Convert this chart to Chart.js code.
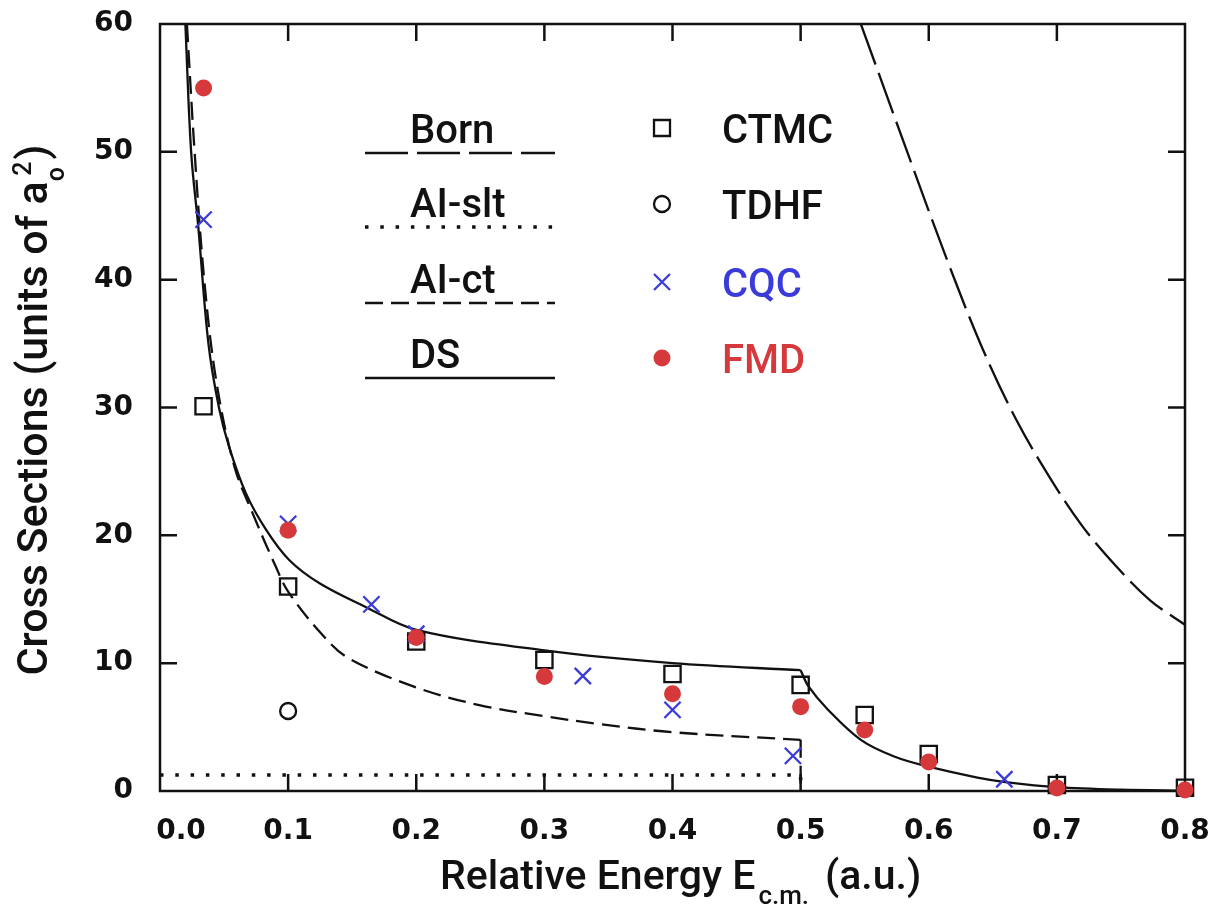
<!DOCTYPE html>
<html>
<head>
<meta charset="utf-8">
<script src="https://cdn.jsdelivr.net/npm/chart.js@4.4.1/dist/chart.umd.min.js"></script>
<style>
  html, body { margin: 0; padding: 0; background: #fff; }
  #wrap { width: 1211px; height: 916px; }
</style>
</head>
<body>
<div id="wrap"><canvas id="chart" width="1211" height="916"></canvas></div>
<script>
/* ------------------------------------------------------------
   DATA  (energy in a.u., cross sections in units of a0^2)
------------------------------------------------------------ */
const xTickValues = [0, 0.1, 0.2, 0.3, 0.4, 0.5, 0.6, 0.7, 0.8];
const yTickValues = [0, 10, 20, 30, 40, 50, 60];

// measured points
const ctmcE = [0.034, 0.1, 0.2, 0.3, 0.4, 0.5, 0.55, 0.6, 0.7, 0.8];
const ctmcSigma = [30.1, 16.0, 11.7, 10.25, 9.15, 8.3, 5.95, 2.9, 0.47, 0.25];
const tdhfE = [0.1];
const tdhfSigma = [6.26];
const cqcE = [0.034, 0.1, 0.165, 0.2, 0.33, 0.4, 0.494, 0.659];
const cqcSigma = [44.7, 20.9, 14.6, 12.3, 9.0, 6.35, 2.75, 0.92];
const fmdE = [0.034, 0.1, 0.2, 0.3, 0.4, 0.5, 0.55, 0.6, 0.7, 0.8];
const fmdSigma = [55.0, 20.4, 12.0, 8.95, 7.6, 6.6, 4.77, 2.27, 0.23, 0.08];

// theory curves
const bornE = [0.547, 0.585, 0.616, 0.642, 0.668, 0.694, 0.72, 0.747, 0.773, 0.8];
const bornSigma = [60, 49.5, 41.1, 34.6, 29.1, 24.6, 20.7, 17.5, 14.9, 13.0];
const alsltE = [0, 0.5, 0.5];
const alsltSigma = [1.25, 1.25, 0];
const alctE = [0.021, 0.027, 0.0345, 0.0437, 0.058, 0.072, 0.0906, 0.1, 0.126, 0.147, 0.2, 0.25, 0.3, 0.342, 0.4, 0.5];
const alctSigma = [60, 50, 40, 32.2, 25.4, 21.8, 17.5, 15.6, 12.3, 10.4, 8.1, 6.7, 5.85, 5.25, 4.6, 4.0];
const alctDropE = [0.5, 0.5];
const alctDropSigma = [4.0, 0];
const dsLowE = [0.0198, 0.0243, 0.030, 0.0378, 0.046, 0.054, 0.067, 0.083, 0.1008, 0.1245, 0.1605, 0.2, 0.3, 0.4, 0.5];
const dsLowSigma = [60, 50, 44.0, 35, 30, 26.9, 23.3, 20.4, 18.07, 16.25, 14.4, 12.6, 11.0, 10.0, 9.45];
const dsHighE = [0.5, 0.506, 0.521, 0.547, 0.573, 0.6, 0.638, 0.66, 0.7, 0.75, 0.8];
const dsHighSigma = [9.45, 8.2, 6.4, 4.0, 2.7, 1.9, 1.05, 0.7, 0.3, 0.1, 0.03];

const lineLegend = ['Born', 'AI-slt', 'AI-ct', 'DS'];
const markerLegend = ['CTMC', 'TDHF', 'CQC', 'FMD'];

/* ------------------------------------------------------------
   STYLE
------------------------------------------------------------ */
const INK = '#111';
const BLUE = '#3b3bdc';
const RED = '#d6393b';
const TICK = 17;
const LW = 2.3;
const FAMILY = 'Roboto, "Liberation Sans", Arial, sans-serif';

const dashes = {
    'Born': [43, 9],
    'AI-slt': [3.5, 11.8],
    'AI-ct': [18, 8],
    'DS': [],
};
const textColors = { CTMC: INK, TDHF: INK, CQC: BLUE, FMD: RED };

function pts(xs, ys) {
    return xs.map((x, i) => ({ x: x, y: ys[i] }));
}

function curve(data, name, smooth) {
    return {
        data: data,
        showLine: true,
        borderColor: INK,
        borderWidth: name === 'AI-slt' ? 3.5 : LW,
        borderDash: dashes[name],
        borderCapStyle: 'butt',
        pointRadius: 0,
        tension: smooth ? 0.35 : 0,
        fill: false,
        order: 10,
    };
}

/* ------------------------------------------------------------
   FRAME + INWARD TICKS (under the markers)
------------------------------------------------------------ */
const frame = {
    id: 'frame',
    beforeDatasetsDraw(chart) {
        const { ctx, chartArea: a, scales } = chart;
        const x = scales.x, y = scales.y;
        ctx.save();
        ctx.strokeStyle = INK;
        ctx.lineWidth = 2.5;
        ctx.setLineDash([]);
        ctx.strokeRect(a.left, a.top, a.right - a.left, a.bottom - a.top);
        ctx.beginPath();
        xTickValues.forEach(v => {
            const px = x.getPixelForValue(v);
            if (px <= a.left + 1 || px >= a.right - 1) return;
            ctx.moveTo(px, a.bottom); ctx.lineTo(px, a.bottom - TICK);
            ctx.moveTo(px, a.top); ctx.lineTo(px, a.top + TICK);
        });
        yTickValues.forEach(v => {
            const py = y.getPixelForValue(v);
            if (py <= a.top + 1 || py >= a.bottom - 1) return;
            ctx.moveTo(a.left, py); ctx.lineTo(a.left + TICK, py);
            ctx.moveTo(a.right, py); ctx.lineTo(a.right - TICK, py);
        });
        ctx.stroke();
        ctx.restore();
    },
};

/* ------------------------------------------------------------
   LEGEND + AXIS TITLES
------------------------------------------------------------ */
const decorations = {
    id: 'decorations',
    afterDraw(chart) {
        const { ctx } = chart;
        ctx.save();
        ctx.strokeStyle = INK;

        // line legend
        ctx.font = '500 40px ' + FAMILY;
        ctx.textBaseline = 'alphabetic';
        ctx.textAlign = 'left';
        const lineY = [153, 227, 303, 378];
        lineLegend.forEach((name, i) => {
            ctx.fillStyle = INK;
            ctx.fillText(name, 410, lineY[i] - 10);
            ctx.beginPath();
            ctx.lineWidth = name === 'AI-slt' ? 3.5 : LW;
            ctx.setLineDash(dashes[name]);
            ctx.moveTo(365, lineY[i]);
            ctx.lineTo(555, lineY[i]);
            ctx.stroke();
        });
        ctx.setLineDash([]);

        // marker legend
        const markY = [128, 204, 282, 358];
        const mx = 662;
        markerLegend.forEach((name, i) => {
            const my = markY[i];
            ctx.lineWidth = LW;
            ctx.beginPath();
            if (name === 'CTMC') {
                ctx.strokeStyle = INK;
                ctx.rect(mx - 8, my - 8, 16, 16);
                ctx.stroke();
            } else if (name === 'TDHF') {
                ctx.strokeStyle = INK;
                ctx.arc(mx, my, 8, 0, Math.PI * 2);
                ctx.stroke();
            } else if (name === 'CQC') {
                ctx.strokeStyle = BLUE;
                ctx.moveTo(mx - 8, my - 8); ctx.lineTo(mx + 8, my + 8);
                ctx.moveTo(mx + 8, my - 8); ctx.lineTo(mx - 8, my + 8);
                ctx.stroke();
            } else {
                ctx.fillStyle = RED;
                ctx.arc(mx, my, 8.5, 0, Math.PI * 2);
                ctx.fill();
            }
            ctx.fillStyle = textColors[name];
            ctx.fillText(name, 722, my + 15);
        });

        // y axis title (rotated, with a_o^2)
        const big = '500 43px ' + FAMILY;
        const small = '500 25px ' + FAMILY;
        ctx.fillStyle = INK;
        ctx.font = big;
        const yMain = 'Cross Sections (units of a';
        const wMain = ctx.measureText(yMain).width;
        const wTail = ctx.measureText(')').width;
        ctx.font = small;
        const wSub = ctx.measureText('o').width;
        const wSup = ctx.measureText('2').width;
        const total = wMain + wSub * 0.4 + wSup + 2 + wTail;
        ctx.save();
        ctx.translate(47, 410);
        ctx.rotate(-Math.PI / 2);
        let sx = -total / 2;
        ctx.font = big;
        ctx.fillText(yMain, sx, 0);
        sx += wMain;
        ctx.font = small;
        ctx.fillText('o', sx, 17);
        ctx.fillText('2', sx + wSub * 0.4, -16);
        sx += wSub * 0.4 + wSup + 2;
        ctx.font = big;
        ctx.fillText(')', sx, 0);
        ctx.restore();

        // x axis title with subscript
        const xBig = '500 41px ' + FAMILY;
        const xSmall = '500 26px ' + FAMILY;
        let tx = 440;
        const base = 889;
        ctx.font = xBig;
        ctx.fillText('Relative Energy E', tx, base);
        tx += ctx.measureText('Relative Energy E').width + 3;
        ctx.font = xSmall;
        ctx.fillText('c.m.', tx, base + 15);
        tx += ctx.measureText('c.m.').width + 16;
        ctx.font = xBig;
        ctx.fillText('(a.u.)', tx, base);

        ctx.restore();
    },
};

/* ------------------------------------------------------------
   CHART
------------------------------------------------------------ */
const tickFont = { family: '"DejaVu Sans", sans-serif', size: 28, weight: 'bold' };

new Chart(document.getElementById('chart'), {
    type: 'scatter',
    data: {
        datasets: [
            {
                label: 'FMD',
                data: pts(fmdE, fmdSigma),
                pointStyle: 'circle',
                pointRadius: 8.5,
                backgroundColor: RED,
                borderColor: RED,
                borderWidth: 0,
                clip: false,
                order: 0,
            },
            {
                label: 'CQC',
                data: pts(cqcE, cqcSigma),
                pointStyle: 'crossRot',
                pointRadius: 11.5,
                borderColor: BLUE,
                borderWidth: LW,
                clip: false,
                order: 1,
            },
            {
                label: 'TDHF',
                data: pts(tdhfE, tdhfSigma),
                pointStyle: 'circle',
                pointRadius: 8,
                backgroundColor: 'rgba(0,0,0,0)',
                borderColor: INK,
                borderWidth: LW,
                clip: false,
                order: 2,
            },
            {
                label: 'CTMC',
                data: pts(ctmcE, ctmcSigma),
                pointStyle: 'rect',
                pointRadius: 11.5,
                backgroundColor: 'rgba(0,0,0,0)',
                borderColor: INK,
                borderWidth: LW,
                clip: false,
                order: 3,
            },
            Object.assign({ label: 'Born' }, curve(pts(bornE, bornSigma), 'Born', true)),
            Object.assign({ label: 'AI-slt' }, curve(pts(alsltE, alsltSigma), 'AI-slt', false)),
            Object.assign({ label: 'AI-ct' }, curve(pts(alctE, alctSigma), 'AI-ct', true)),
            Object.assign({ label: 'AI-ct drop' }, curve(pts(alctDropE, alctDropSigma), 'AI-ct', false)),
            Object.assign({ label: 'DS' }, curve(pts(dsLowE, dsLowSigma), 'DS', true)),
            Object.assign({ label: 'DS high' }, curve(pts(dsHighE, dsHighSigma), 'DS', true)),
        ],
    },
    options: {
        responsive: false,
        devicePixelRatio: 1,
        animation: false,
        events: [],
        layout: { padding: { top: 24, right: 26, bottom: 0, left: 0 } },
        plugins: {
            legend: { display: false },
            tooltip: { enabled: false },
            title: { display: false },
        },
        scales: {
            x: {
                type: 'linear',
                min: 0,
                max: 0.8,
                afterBuildTicks: s => { s.ticks = xTickValues.map(v => ({ value: v })); },
                afterFit: s => {
                    s.height = 125;
                    s.paddingLeft = 0;
                    s.paddingRight = 0;
                },
                grid: { display: false, drawTicks: false },
                border: { display: false },
                ticks: {
                    color: INK,
                    font: tickFont,
                    padding: 24,
                    maxRotation: 0,
                    autoSkip: false,
                    callback: v => (v === 0 ? '\u2002\u2002\u20020.0' : v.toFixed(1)),
                },
            },
            y: {
                type: 'linear',
                min: 0,
                max: 60,
                afterBuildTicks: s => { s.ticks = yTickValues.map(v => ({ value: v })); },
                afterFit: s => {
                    s.width = 160;
                    s.paddingTop = 0;
                    s.paddingBottom = 0;
                },
                grid: { display: false, drawTicks: false },
                border: { display: false },
                ticks: {
                    color: INK,
                    font: tickFont,
                    padding: 27,
                    autoSkip: false,
                    callback: v => String(v),
                },
            },
        },
    },
    plugins: [frame, decorations],
});
</script>
</body>
</html>
